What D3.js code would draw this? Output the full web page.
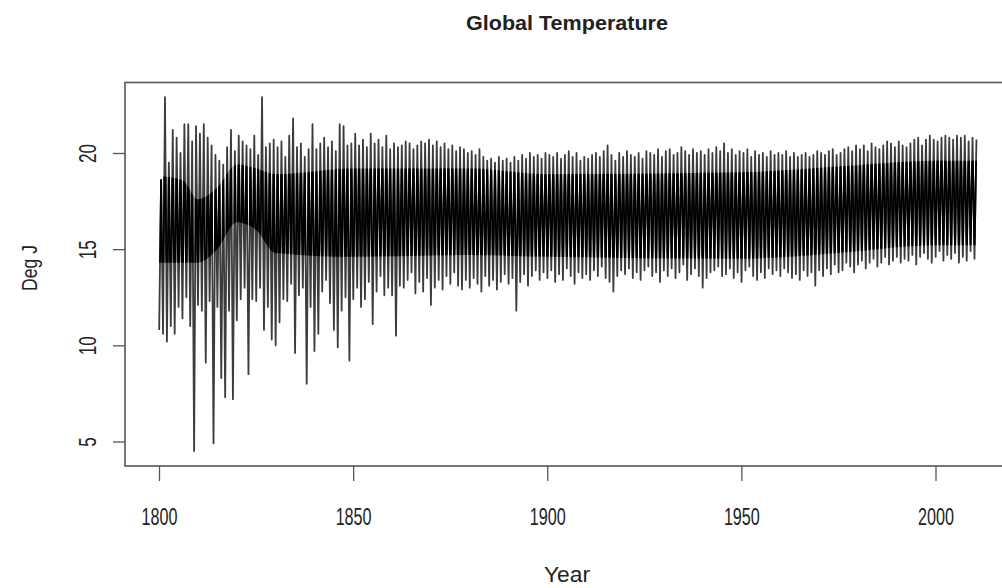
<!DOCTYPE html>
<html>
<head>
<meta charset="utf-8">
<script src="https://cdn.jsdelivr.net/npm/d3@7"></script>
<style>
  html, body { margin: 0; padding: 0; background: #fff; }
  svg { display: block; }
  text { font-family: "Liberation Sans", Arial, sans-serif; fill: #222; }
</style>
</head>
<body>
<svg id="chart" width="1002" height="588"></svg>
<script>
// ---- data ----
const firstYear = 1800;
// yearly summer peaks (Deg J)
const highs = [
  18.6, 22.9, 19.5, 21.2, 20.8, 20.0, 21.5, 21.5, 20.6, 21.4,
  21.0, 21.5, 20.8, 20.4, 19.9, 19.6, 19.4, 20.3, 21.2, 20.1,
  20.9, 20.6, 20.4, 20.2, 20.9, 19.9, 22.9, 20.3, 20.5, 20.7,
  20.3, 20.6, 19.8, 20.9, 21.8, 20.3, 20.5, 19.8, 20.2, 21.5,
  20.2, 20.5, 20.8, 20.3, 20.6, 20.1, 21.5, 21.4, 20.4, 20.5,
  21.0, 20.4, 20.7, 20.3, 21.0, 20.5, 20.7, 20.3, 20.9, 20.2,
  20.5, 20.3, 20.4, 20.6, 20.5, 20.2, 20.4, 20.6, 20.5, 20.7,
  20.4, 20.6, 20.3, 20.5, 20.2, 20.4, 20.1, 20.3, 20.2, 20.0,
  20.1, 19.9, 20.2, 19.8, 19.6, 19.7, 19.5, 19.8, 19.6, 19.7,
  19.5, 19.8, 19.6, 19.9, 19.7, 20.0, 19.8, 19.9, 19.7, 20.0,
  19.9, 19.8, 20.0, 19.7, 19.9, 20.1, 19.8, 20.0, 19.6, 19.8,
  19.7, 19.9, 20.0, 19.8, 20.1, 20.4, 19.9, 19.6, 20.0, 19.8,
  20.1, 19.9, 19.8, 20.0, 19.7, 20.1, 20.0, 19.9, 20.2, 19.8,
  20.1, 20.2, 19.9, 20.0, 20.3, 20.1, 19.9, 20.2, 20.0, 20.1,
  19.9, 20.2, 20.0, 20.3, 20.1, 20.5, 20.0, 20.2, 19.9, 20.1,
  20.0, 20.2, 19.8, 20.1, 19.9, 20.0, 19.8, 20.1, 19.9, 20.0,
  19.9, 20.1, 19.8, 20.0, 19.8, 19.9, 20.0, 19.8, 19.9, 20.1,
  20.0, 19.9, 20.1, 20.2, 19.9, 20.0, 20.2, 20.3, 20.1, 20.4,
  20.2, 20.4, 20.1, 20.5, 20.3, 20.2, 20.4, 20.6, 20.5, 20.3,
  20.6, 20.4, 20.3, 20.5, 20.7, 20.8, 20.4, 20.7, 20.9, 20.7,
  20.6, 20.8, 20.9, 20.8, 20.7, 20.9, 20.8, 20.9, 20.6, 20.8,
  20.7
];
// yearly winter troughs (Deg J)
const lows = [
  10.8, 10.6, 10.2, 11.0, 10.6, 12.0, 11.4, 12.5, 11.0, 4.5,
  12.1, 11.8, 9.1, 12.3, 4.9, 12.0, 8.3, 7.3, 11.8, 7.2,
  11.3, 12.4, 13.0, 8.5, 12.4, 12.3, 13.0, 10.8, 12.0, 10.3,
  10.0, 11.2, 12.4, 12.3, 13.2, 9.6, 12.6, 13.0, 8.0, 12.0,
  9.7, 10.6, 12.8, 13.4, 12.2, 10.8, 9.9, 11.8, 12.5, 9.2,
  12.4, 13.0, 12.0, 12.4, 13.3, 11.1, 12.8, 13.6, 12.6, 13.0,
  12.6, 10.5, 13.1, 13.0, 13.4, 13.8, 12.7, 13.3, 12.8, 13.5,
  12.1, 13.0, 13.4, 12.9, 13.6, 13.2, 13.8, 13.1, 12.9, 13.4,
  13.0, 13.5, 13.2, 12.8, 13.6, 13.1, 13.4, 12.9, 13.3, 13.7,
  13.2, 13.5, 11.8, 13.3, 13.7, 13.1, 13.6, 13.9, 13.4, 13.8,
  13.5, 13.9, 13.3, 13.7, 13.4, 14.0, 13.6, 13.2, 13.8, 13.5,
  13.7, 13.4, 13.9, 13.6, 14.1, 13.5, 13.3, 12.8, 13.6, 13.9,
  13.7, 14.0, 13.5, 13.8, 13.4, 13.9, 14.1, 13.6, 13.8, 13.3,
  13.9, 13.6, 14.0, 13.5, 13.8, 14.2, 13.4, 13.7, 14.0, 13.6,
  13.0, 13.5, 13.8, 13.9, 14.1, 13.6, 13.7, 14.0, 13.5, 13.8,
  13.3, 13.9, 14.1, 13.6, 13.4, 13.8, 13.5, 14.0, 13.7, 13.9,
  13.6, 14.0, 13.8, 13.5, 13.7, 13.4, 13.9, 13.6, 13.8, 13.1,
  13.9, 13.6, 14.0, 13.7, 14.2, 13.8, 13.9, 14.3, 14.1, 13.8,
  14.2, 14.4, 14.0, 14.3, 14.5, 14.1, 14.3, 14.6, 14.2, 14.4,
  14.6, 14.3, 14.5, 14.4, 14.7, 14.2, 14.6, 14.8, 14.5, 14.3,
  14.6, 14.9, 14.4, 14.7, 14.5, 14.8, 14.3, 14.6, 14.4, 14.9,
  14.5
];
// bounds of the dense (darkest) band
const coreYears = [1800, 1806, 1810, 1815, 1820, 1825, 1830, 1850, 1880, 1900, 1950, 1975, 2000, 2011];
const coreHigh  = [18.8, 18.6, 17.6, 18.2, 19.4, 19.2, 18.9, 19.2, 19.2, 18.9, 19.0, 19.3, 19.6, 19.6];
const coreLow   = [14.3, 14.3, 14.3, 15.0, 16.4, 16.0, 14.8, 14.6, 14.7, 14.6, 14.5, 14.8, 15.2, 15.2];

const xTicks = [1800, 1850, 1900, 1950, 2000];
const yTicks = [5, 10, 15, 20];
const titleText = "Global Temperature";
const xLabel = "Year";
const yLabel = "Deg J";

// ---- series: winter trough then summer peak for each year ----
const series = [];
lows.forEach((lo, i) => {
  series.push({ t: firstYear + i + 0.04, v: lo });
  series.push({ t: firstYear + i + 0.54, v: highs[i] });
});
const core = coreYears.map((t, i) => ({ t, lo: coreLow[i], hi: coreHigh[i] }));

// ---- layout ----
const svg = d3.select("#chart");
const box = { left: 125, right: 1010, top: 82.5, bottom: 466 };

const x = d3.scaleLinear().domain([1800, 2000]).range([159, 935.5]);
const y = d3.scaleLinear().domain([5, 20]).range([441.5, 153]);

// clip for the dense band
const area = d3.area().curve(d3.curveMonotoneX).x(d => x(d.t)).y0(d => y(d.lo)).y1(d => y(d.hi));
svg.append("defs").append("clipPath").attr("id", "coreClip")
  .append("path").datum(core).attr("d", area);

// data line
const line = d3.line().x(d => x(d.t)).y(d => y(d.v));
svg.append("path")
  .datum(series)
  .attr("fill", "none")
  .attr("stroke", "#3c3c3c")
  .attr("stroke-width", 1.8)
  .attr("stroke-linejoin", "round")
  .attr("d", line);
svg.append("path")
  .datum(series)
  .attr("clip-path", "url(#coreClip)")
  .attr("fill", "none")
  .attr("stroke", "#000")
  .attr("stroke-width", 1.8)
  .attr("stroke-linejoin", "round")
  .attr("d", line);

// box
svg.append("rect")
  .attr("x", box.left).attr("y", box.top)
  .attr("width", box.right - box.left).attr("height", box.bottom - box.top)
  .attr("fill", "none").attr("stroke", "#555").attr("stroke-width", 1.6);

// x axis
const xAxis = d3.axisBottom(x).tickValues(xTicks).tickSize(15).tickPadding(28).tickFormat(d3.format("d"));
const gx = svg.append("g").attr("transform", `translate(0,${box.bottom})`).call(xAxis);
gx.select(".domain").remove();
gx.selectAll(".tick line").attr("stroke", "#555").attr("stroke-width", 1.3);
gx.selectAll(".tick text")
  .attr("font-size", 23).attr("fill", "#444")
  .attr("textLength", 36).attr("lengthAdjust", "spacingAndGlyphs")
  .attr("font-family", "Liberation Sans, Arial, sans-serif");

// y axis
const yAxis = d3.axisLeft(y).tickValues(yTicks).tickSize(12).tickPadding(0).tickFormat(d3.format("d"));
const gy = svg.append("g").attr("transform", `translate(${box.left},0)`).call(yAxis);
gy.select(".domain").remove();
gy.selectAll(".tick line").attr("stroke", "#555").attr("stroke-width", 1.3);
gy.selectAll(".tick text").remove();
gy.selectAll(".tick").append("text")
  .attr("transform", "translate(-29,0) rotate(-90)")
  .attr("text-anchor", "middle")
  .attr("font-size", 23).attr("fill", "#444")
  .attr("textLength", d => String(d).length * 9.5)
  .attr("lengthAdjust", "spacingAndGlyphs")
  .text(d => d);

// title
svg.append("text")
  .attr("x", 567).attr("y", 30)
  .attr("text-anchor", "middle")
  .attr("font-size", 20).attr("font-weight", "bold").attr("fill", "#111")
  .attr("textLength", 202).attr("lengthAdjust", "spacingAndGlyphs")
  .text(titleText);

// axis labels
svg.append("text")
  .attr("x", 567).attr("y", 582)
  .attr("text-anchor", "middle")
  .attr("font-size", 22).attr("fill", "#444")
  .attr("textLength", 46).attr("lengthAdjust", "spacingAndGlyphs")
  .text(xLabel);

svg.append("text")
  .attr("transform", "translate(37,268) rotate(-90)")
  .attr("text-anchor", "middle")
  .attr("font-size", 22).attr("fill", "#444")
  .attr("textLength", 46).attr("lengthAdjust", "spacingAndGlyphs")
  .text(yLabel);
</script>
</body>
</html>
